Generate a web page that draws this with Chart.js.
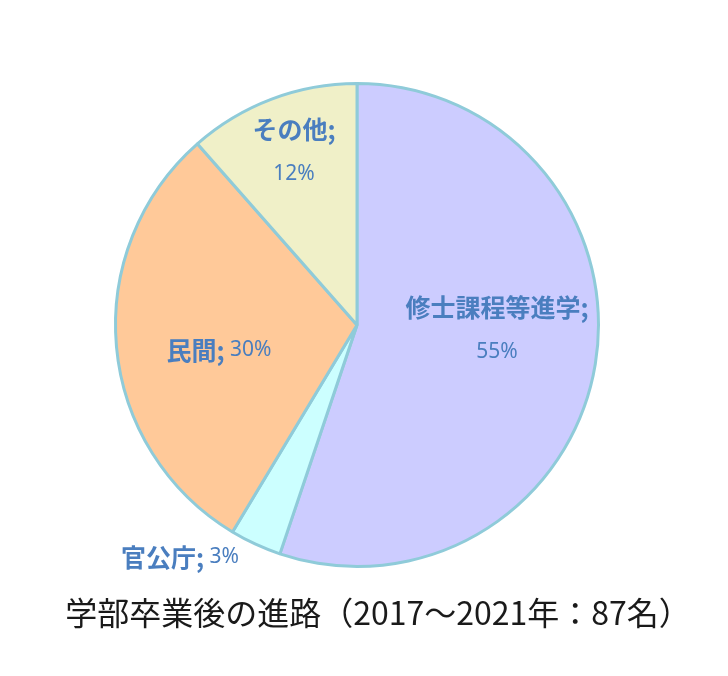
<!DOCTYPE html>
<html>
<head>
<meta charset="utf-8">
<script src="https://cdn.jsdelivr.net/npm/chart.js@4/dist/chart.umd.min.js"></script>
<style>
  body { margin: 0; background: #fff; }
  #wrap { width: 728px; height: 676px; }
</style>
</head>
<body>
<div id="wrap"><canvas id="pie" width="728" height="676"></canvas></div>
<script>
// 進路別人数（2017～2021年、87名）
const categories = ['修士課程等進学', '官公庁', '民間', 'その他'];
const counts = [48, 3, 26, 10];
const pctLabels = ['55%', '3%', '30%', '12%'];
const titleText = '学部卒業後の進路（2017～2021年：87名）';

const sliceColors = ['#ccccff', '#ccffff', '#ffc999', '#f0f0c8'];
const borderCol = '#8fcbd9';
const labelCol = '#4a7ebf';

// label block centre, offset from the pie centre; twoLine = name and % on separate lines
const labelOffsets = [[140, 5], [-177, 232], [-138, 25], [-63, -173]];
const twoLine = [true, false, false, true];

const pieLabels = {
    id: 'pieLabels',
    afterDraw(chart) {
        const ctx = chart.ctx;
        const arcs = chart.getDatasetMeta(0).data;
        ctx.save();
        ctx.fillStyle = labelCol;
        ctx.textBaseline = 'middle';
        arcs.forEach((arc, i) => {
            const cx = arc.x + labelOffsets[i][0];
            const cy = arc.y + labelOffsets[i][1];
            const nameFont = 'bold 25px "Noto Sans CJK JP"';
            const pctFont = '21px "Noto Sans"';
            if (twoLine[i]) {
                ctx.textAlign = 'center';
                ctx.font = nameFont;
                ctx.fillText(categories[i] + ';', cx, cy - 23);
                ctx.font = pctFont;
                ctx.fillText(pctLabels[i], cx, cy + 22);
            } else {
                ctx.font = nameFont;
                const a = categories[i] + ';';
                const wa = ctx.measureText(a).width;
                ctx.font = pctFont;
                const b = ' ' + pctLabels[i];
                const wb = ctx.measureText(b).width;
                let x = cx - (wa + wb) / 2;
                ctx.textAlign = 'left';
                ctx.font = nameFont;
                ctx.fillText(a, x, cy);
                ctx.font = pctFont;
                ctx.fillText(b, x + wa, cy);
            }
        });
        // 図のタイトル（下）
        ctx.fillStyle = '#1a1a1a';
        ctx.font = '32px "Noto Sans CJK JP"';
        ctx.textAlign = 'center';
        ctx.fillText(titleText, 378, 613);
        ctx.restore();
    }
};

var ctx = document.getElementById('pie').getContext('2d');
var pieChart = new Chart(ctx, {
    type: 'pie',
    data: {
        labels: categories,
        datasets: [{
            data: counts,
            backgroundColor: sliceColors,
            borderColor: borderCol,
            borderWidth: 3
        }]
    },
    options: {
        responsive: false,
        animation: false,
        layout: { padding: { left: 114, top: 82, right: 128, bottom: 108 } },
        plugins: {
            legend: { display: false },
            tooltip: { enabled: false },
            title: { display: false }
        }
    },
    plugins: [pieLabels]
});
</script>
</body>
</html>
